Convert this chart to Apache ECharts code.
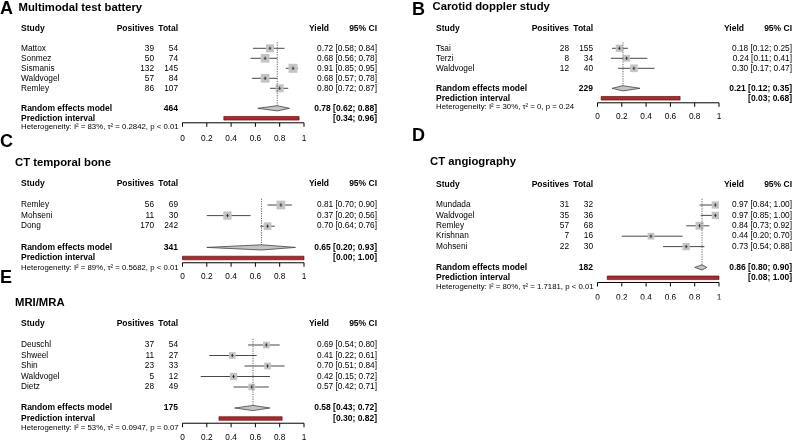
<!DOCTYPE html>
<html>
<head>
<meta charset="utf-8">
<script src="https://cdn.jsdelivr.net/npm/echarts@6/dist/echarts.min.js"></script>
<style>
html, body { margin: 0; padding: 0; background: #fff; }
#chart { width: 800px; height: 448px; }
</style>
</head>
<body>
<div id="chart"></div>
<script>
// A  Multimodal test battery
const aStudy = ['Mattox', 'Sonmez', 'Sismanis', 'Waldvogel', 'Remley']
const aPos = [39, 50, 132, 57, 86]
const aTotal = [54, 74, 145, 84, 107]
const aYield = [0.72, 0.68, 0.91, 0.68, 0.80]
const aLow = [0.58, 0.56, 0.85, 0.57, 0.72]
const aHigh = [0.84, 0.78, 0.95, 0.78, 0.87]
const aWeight = [17.8, 21.0, 22.5, 21.0, 17.8]
const aPooled = [0.78, 0.62, 0.88]
const aPredict = [0.34, 0.96]
const aHet = ['83%', '0.2842', '< 0.01']

// B  Carotid doppler study
const bStudy = ['Tsai', 'Terzi', 'Waldvogel']
const bPos = [28, 8, 12]
const bTotal = [155, 34, 40]
const bYield = [0.18, 0.24, 0.30]
const bLow = [0.12, 0.11, 0.17]
const bHigh = [0.25, 0.41, 0.47]
const bWeight = [33.8, 28.5, 37.7]
const bPooled = [0.21, 0.12, 0.35]
const bPredict = [0.03, 0.68]
const bHet = ['30%', '0', '= 0.24']

// C  CT temporal bone
const cStudy = ['Remley', 'Mohseni', 'Dong']
const cPos = [56, 11, 170]
const cTotal = [69, 30, 242]
const cYield = [0.81, 0.37, 0.70]
const cLow = [0.70, 0.20, 0.64]
const cHigh = [0.90, 0.56, 0.76]
const cWeight = [37.1, 33.8, 29.1]
const cPooled = [0.65, 0.20, 0.93]
const cPredict = [0.00, 1.00]
const cHet = ['89%', '0.5682', '< 0.01']

// D  CT angiography
const dStudy = ['Mundada', 'Waldvogel', 'Remley', 'Krishnan', 'Mohseni']
const dPos = [31, 35, 57, 7, 22]
const dTotal = [32, 36, 68, 16, 30]
const dYield = [0.97, 0.97, 0.84, 0.44, 0.73]
const dLow = [0.84, 0.85, 0.73, 0.20, 0.54]
const dHigh = [1.00, 1.00, 0.92, 0.70, 0.88]
const dWeight = [19.8, 19.8, 23.8, 16.7, 19.8]
const dPooled = [0.86, 0.80, 0.90]
const dPredict = [0.08, 1.00]
const dHet = ['80%', '1.7181', '< 0.01']

// E  MRI/MRA
const eStudy = ['Deuschl', 'Shweel', 'Shin', 'Waldvogel', 'Dietz']
const ePos = [37, 11, 23, 5, 28]
const eTotal = [54, 27, 33, 12, 49]
const eYield = [0.69, 0.41, 0.70, 0.42, 0.57]
const eLow = [0.54, 0.22, 0.51, 0.15, 0.42]
const eHigh = [0.80, 0.61, 0.84, 0.72, 0.71]
const eWeight = [19.3, 19.3, 19.3, 22.9, 19.3]
const ePooled = [0.58, 0.43, 0.72]
const ePredict = [0.30, 0.82]
const eHet = ['53%', '0.0947', '= 0.07']

const xTicks = [0, 0.2, 0.4, 0.6, 0.8, 1]

const FONT = '"Liberation Sans", Arial, Helvetica, sans-serif'
const fReg = '8.3px ' + FONT
const fBold = 'bold 8.5px ' + FONT
const fHet = '7.8px ' + FONT

const panels = [
  { letter: 'A', title: 'Multimodal test battery', study: aStudy, pos: aPos, total: aTotal, yld: aYield, low: aLow, high: aHigh, w: aWeight, pooled: aPooled, pred: aPredict, het: aHet,
    left: 182.5, width: 121.5, y0: 48.3, step: 10, box: 9, lx: 0, ly: 9, tx: 18.5, ty: 7.5, lm: 11.5 },
  { letter: 'B', title: 'Carotid doppler study', study: bStudy, pos: bPos, total: bTotal, yld: bYield, low: bLow, high: bHigh, w: bWeight, pooled: bPooled, pred: bPredict, het: bHet,
    left: 597.5, width: 121.5, y0: 48.3, step: 10, box: 7.7, lx: 412, ly: 10, tx: 432.5, ty: 7, lm: 10 },
  { letter: 'C', title: 'CT temporal bone', study: cStudy, pos: cPos, total: cTotal, yld: cYield, low: cLow, high: cHigh, w: cWeight, pooled: cPooled, pred: cPredict, het: cHet,
    left: 182.5, width: 121.5, y0: 205, step: 10.6, box: 8.7, lx: 0, ly: 142.5, tx: 15, ty: 163, lm: 9.5 },
  { letter: 'D', title: 'CT angiography', study: dStudy, pos: dPos, total: dTotal, yld: dYield, low: dLow, high: dHigh, w: dWeight, pooled: dPooled, pred: dPredict, het: dHet,
    left: 597.5, width: 121.5, y0: 205, step: 10.4, box: 8, lx: 412, ly: 136.5, tx: 430, ty: 162, lm: 11 },
  { letter: 'E', title: 'MRI/MRA', study: eStudy, pos: ePos, total: eTotal, yld: eYield, low: eLow, high: eHigh, w: eWeight, pooled: ePooled, pred: ePredict, het: eHet,
    left: 182.5, width: 121.5, y0: 345, step: 10.5, box: 7.3, lx: 0, ly: 278.5, tx: 15, ty: 302.5, lm: 10 }
]

function fmtCI(est, lo, hi) {
  return (est == null ? '' : est.toFixed(2) + ' ') + '[' + lo.toFixed(2) + '; ' + hi.toFixed(2) + ']'
}

function txt(x, y, text, font, align) {
  return { type: 'text', x: x, y: y, style: { text: text, font: font, fill: '#000', align: align || 'left', verticalAlign: 'middle' } }
}

const grids = []
const xAxes = []
const yAxes = []
const series = []
const graphics = []

panels.forEach((p, k) => {
  const n = p.study.length
  // rows counted downwards from the first study; y value = distance above the x axis
  const axisRow = n + 2.45
  const yv = row => axisRow - row
  const reRow = n + 1
  const predRow = n + 2
  const hetRow = predRow + 0.9
  const maxW = Math.max.apply(null, p.w)
  const sumTotal = p.total.reduce((s, v) => s + v, 0)

  grids.push({ left: p.left, width: p.width, top: p.y0 - 3 * p.step, height: (axisRow + 3) * p.step, outerBoundsMode: 'none' })
  xAxes.push({
    gridIndex: k, type: 'value', min: 0, max: 1, interval: 0.2,
    axisLine: { show: false },
    axisTick: { show: false },
    axisLabel: { color: '#000', fontSize: 8.3, fontFamily: FONT, margin: p.lm, formatter: v => String(+v.toFixed(1)) },
    splitLine: { show: false }
  })
  yAxes.push({ gridIndex: k, type: 'value', min: 0, max: axisRow + 3, show: false })

  // x axis line and downward ticks, R style
  series.push({
    type: 'custom', xAxisIndex: k, yAxisIndex: k, silent: true, clip: false,
    encode: { x: 0, y: 1 },
    data: xTicks.map(v => [v, 0]),
    renderItem: (params, api) => {
      const pt = api.coord([api.value(0), 0])
      const kids = [{ type: 'line', shape: { x1: pt[0], y1: pt[1], x2: pt[0], y2: pt[1] + 4 }, style: { stroke: '#000', lineWidth: 1 } }]
      if (params.dataIndex === 0) {
        const end = api.coord([xTicks[xTicks.length - 1], 0])
        kids.push({ type: 'line', shape: { x1: pt[0], y1: pt[1], x2: end[0], y2: end[1] }, style: { stroke: '#000', lineWidth: 1 } })
      }
      return { type: 'group', children: kids }
    }
  })

  // header + heterogeneity
  series.push({
    type: 'custom', xAxisIndex: k, yAxisIndex: k, silent: true, clip: false,
    encode: { x: 0, y: 1 },
    data: [[0, yv(-2), 0], [0, yv(hetRow), 1]],
    renderItem: (params, api) => {
      const pt = api.coord([0, api.value(1)])
      const x0 = pt[0], y = pt[1]
      if (api.value(2) === 0) {
        return { type: 'group', children: [
          txt(x0 - 161.5, y, 'Study', fBold),
          txt(x0 - 28.5, y, 'Positives', fBold, 'right'),
          txt(x0 - 4.5, y, 'Total', fBold, 'right'),
          txt(x0 + 146.5, y, 'Yield', fBold, 'right'),
          txt(x0 + 194.5, y, '95% CI', fBold, 'right')
        ] }
      }
      const h = 'Heterogeneity: I\u00b2 = ' + p.het[0] + ', \u03c4\u00b2 = ' + p.het[1] + ', p ' + p.het[2]
      return txt(x0 - 161.5, y, h, fHet)
    }
  })

  // individual studies
  series.push({
    type: 'custom', xAxisIndex: k, yAxisIndex: k, silent: true, clip: false,
    encode: { x: [0, 1, 2], y: 3 },
    data: p.study.map((s, i) => [p.yld[i], p.low[i], p.high[i], yv(i), p.w[i]]),
    renderItem: (params, api) => {
      const i = params.dataIndex
      const yy = api.value(3)
      const c = api.coord([api.value(0), yy])
      const a = api.coord([api.value(1), yy])
      const b = api.coord([api.value(2), yy])
      const x0 = api.coord([0, yy])[0]
      const side = p.box * Math.sqrt(api.value(4) / maxW)
      return { type: 'group', children: [
        { type: 'line', shape: { x1: a[0], y1: c[1], x2: b[0], y2: c[1] }, style: { stroke: '#333', lineWidth: 0.9 } },
        { type: 'rect', shape: { x: c[0] - side / 2, y: c[1] - side / 2, width: side, height: side }, style: { fill: '#c4c4c4' } },
        { type: 'line', shape: { x1: c[0], y1: c[1] - 1.6, x2: c[0], y2: c[1] + 1.6 }, style: { stroke: '#000', lineWidth: 0.8 } },
        { type: 'line', shape: { x1: c[0] - 1.6, y1: c[1], x2: c[0] + 1.6, y2: c[1] }, style: { stroke: '#333', lineWidth: 0.6 } },
        txt(x0 - 161.5, c[1], p.study[i], fReg),
        txt(x0 - 28.5, c[1], String(p.pos[i]), fReg, 'right'),
        txt(x0 - 4.5, c[1], String(p.total[i]), fReg, 'right'),
        txt(x0 + 194.5, c[1], fmtCI(p.yld[i], p.low[i], p.high[i]), fReg, 'right')
      ] }
    }
  })

  // random effects model: reference line + diamond
  series.push({
    type: 'custom', xAxisIndex: k, yAxisIndex: k, silent: true, clip: false,
    encode: { x: [0, 1, 2], y: 3 },
    data: [[p.pooled[0], p.pooled[1], p.pooled[2], yv(reRow)]],
    renderItem: (params, api) => {
      const yy = api.value(3)
      const c = api.coord([api.value(0), yy])
      const a = api.coord([api.value(1), yy])
      const b = api.coord([api.value(2), yy])
      const top = api.coord([api.value(0), yv(-0.6)])
      const x0 = api.coord([0, yy])[0]
      const hh = 2.6
      return { type: 'group', children: [
        { type: 'line', shape: { x1: c[0], y1: top[1], x2: c[0], y2: c[1] }, style: { stroke: '#666', lineWidth: 1, lineDash: [1.2, 1.2] } },
        { type: 'polygon', shape: { points: [[a[0], c[1]], [c[0], c[1] - hh], [b[0], c[1]], [c[0], c[1] + hh]] }, style: { fill: '#c4c4c4', stroke: '#444', lineWidth: 0.8 } },
        txt(x0 - 161.5, c[1], 'Random effects model', fBold),
        txt(x0 - 4.5, c[1], String(sumTotal), fBold, 'right'),
        txt(x0 + 194.5, c[1], fmtCI(p.pooled[0], p.pooled[1], p.pooled[2]), fBold, 'right')
      ] }
    }
  })

  // prediction interval
  series.push({
    type: 'custom', xAxisIndex: k, yAxisIndex: k, silent: true, clip: false,
    encode: { x: [0, 1], y: 2 },
    data: [[p.pred[0], p.pred[1], yv(predRow)]],
    renderItem: (params, api) => {
      const yy = api.value(2)
      const a = api.coord([api.value(0), yy])
      const b = api.coord([api.value(1), yy])
      const x0 = api.coord([0, yy])[0]
      return { type: 'group', children: [
        { type: 'rect', shape: { x: a[0], y: a[1] - 1.8, width: b[0] - a[0], height: 3.6 }, style: { fill: '#b8242a', stroke: '#3a0a0a', lineWidth: 0.6 } },
        txt(x0 - 161.5, a[1], 'Prediction interval', fBold),
        txt(x0 + 194.5, a[1], fmtCI(null, p.pred[0], p.pred[1]), fBold, 'right')
      ] }
    }
  })

  graphics.push({ type: 'text', x: p.lx, y: p.ly, style: { text: p.letter, font: 'bold 18px ' + FONT, fill: '#000', verticalAlign: 'middle' } })
  graphics.push({ type: 'text', x: p.tx, y: p.ty, style: { text: p.title, font: 'bold 11.3px ' + FONT, fill: '#000', verticalAlign: 'middle' } })
})

// panel D is cropped just under its tick labels in the original figure
graphics.push({ type: 'rect', z: 100, shape: { x: 585, y: 299.5, width: 150, height: 8 }, style: { fill: '#fff' } })

const chart = echarts.init(document.getElementById('chart'), null, { renderer: 'canvas' })
chart.setOption({
  animation: false,
  backgroundColor: '#fff',
  grid: grids,
  xAxis: xAxes,
  yAxis: yAxes,
  series: series,
  graphic: graphics
})
</script>
</body>
</html>
